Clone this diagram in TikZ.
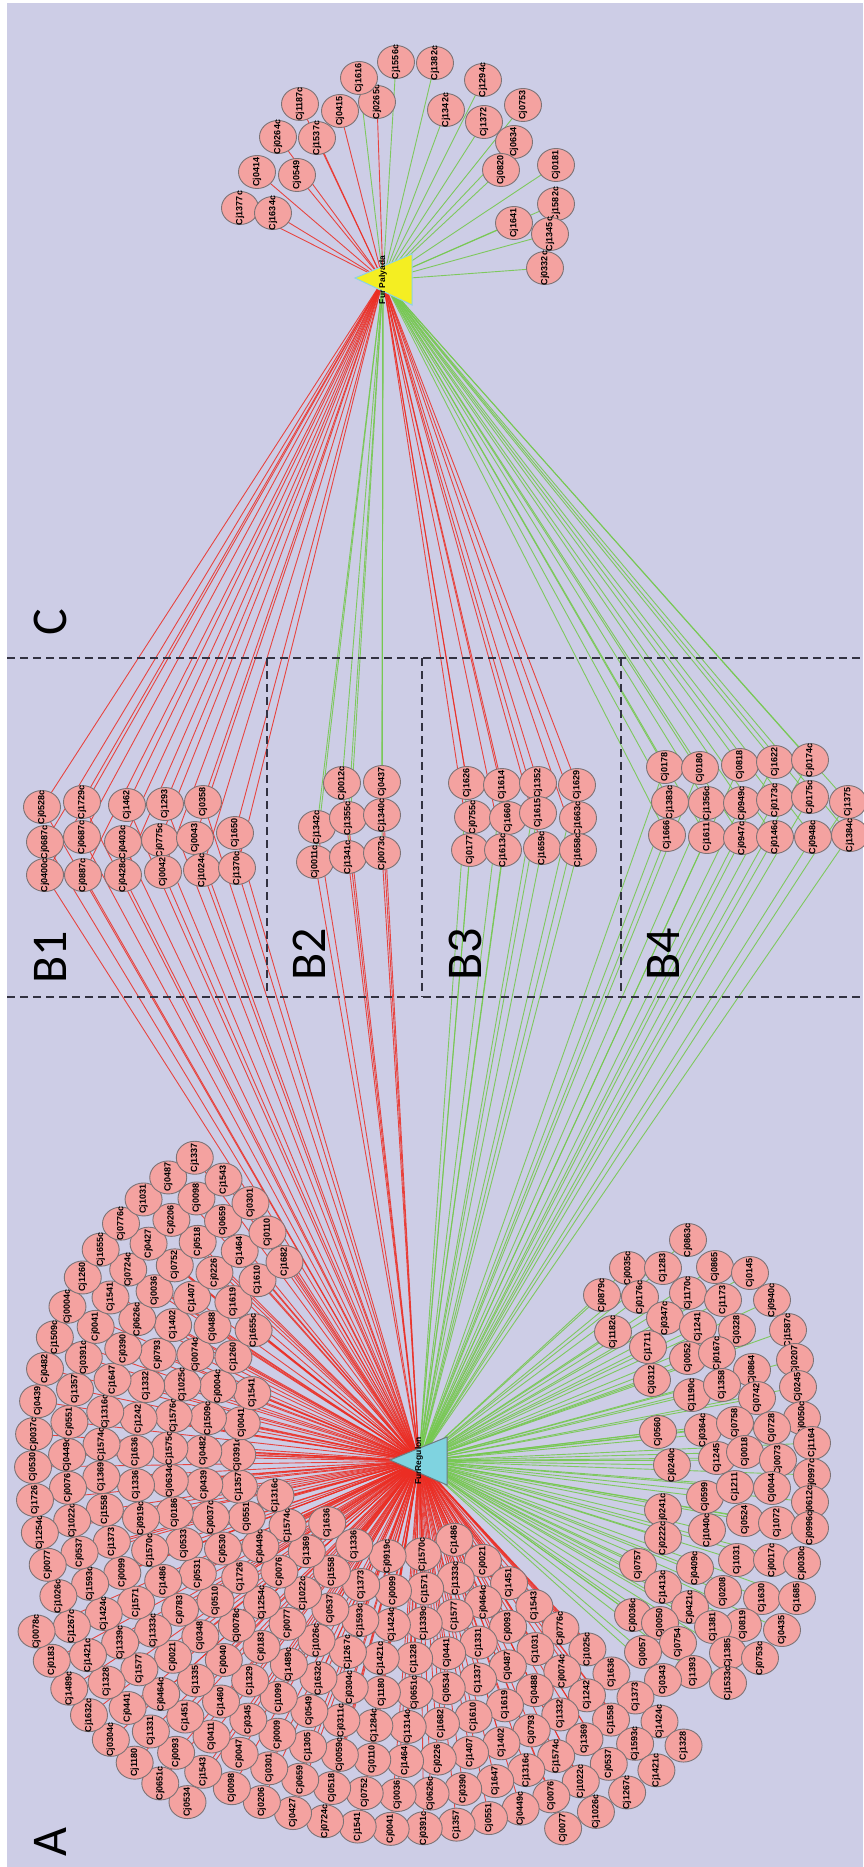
\documentclass[tikz,border=0pt]{standalone}
\usepackage{fontspec}
\setmainfont{Liberation Sans}
\newfontfamily\bigfont{Carlito}
\usetikzlibrary{shapes.geometric}
\pgfdeclarelayer{bgl}
\pgfdeclarelayer{edges}
\pgfsetlayers{bgl,edges,main}
\definecolor{bgcol}{RGB}{205,205,230}
\definecolor{genefill}{RGB}{244,162,160}
\definecolor{genedraw}{RGB}{125,115,118}
\definecolor{edgered}{RGB}{236,45,35}
\definecolor{edgegreen}{RGB}{118,200,80}
\definecolor{sepcol}{RGB}{50,50,65}
\definecolor{yelfill}{RGB}{244,238,34}
\definecolor{yeldraw}{RGB}{140,210,230}
\definecolor{cyanfill}{RGB}{127,211,224}
\definecolor{cyandraw}{RGB}{110,123,128}
\tikzset{
  gene/.style={ellipse, draw=genedraw, fill=genefill, line width=0.9pt,
    minimum width=33pt, minimum height=37pt, inner sep=0pt, rotate=90,
    font=\bfseries\fontsize{9}{9}\selectfont},
  redge/.style={draw=edgered, line width=0.9pt, opacity=0.85},
  gedge/.style={draw=edgegreen, line width=0.9pt, opacity=0.9},
  sepline/.style={draw=sepcol, line width=1.6pt, dash pattern=on 8pt off 5pt},
  biglab/.style={rotate=90, font=\bigfont\fontsize{50}{50}\selectfont, inner sep=0pt},
  hublab/.style={rotate=90, font=\bfseries\fontsize{8.5}{8.5}\selectfont, inner sep=0pt},
}
\def\lablist{{"Cj0186","Cj0537","Cj0040","Cj0441","Cj0059c","Cj0776c","Cj0390","Cj0634c","Cj1022c","Cj0348",
"Cj1328","Cj1305","Cj1031","Cj0626c","Cj1575c","Cj0076","Cj0783","Cj1421c","Cj0009","Cj0487",
"Cj0036","Cj1576c","Cj0449c","Cj1486","Cj1267c","Cj0345","Cj1337","Cj0752","Cj1025c","Cj0551",
"Cj1570c","Cj1026c","Cj1460","Cj0534","Cj0518","Cj0074c","Cj1357","Cj0919c","Cj0077","Cj1335",
"Cj0651c","Cj0659","Cj0488","Cj0391c","Cj1336","Cj1254c","Cj0021","Cj1180","Cj0301","Cj1619",
"Cj0041","Cj1636","Cj1726","Cj1333c","Cj0304c","Cj0047","Cj1610","Cj1541","Cj1242","Cj0530",
"Cj1571","Cj1632c","Cj0411","Cj1682","Cj0724c","Cj1332","Cj0037c","Cj0099","Cj1489c","Cj1451",
"Cj1314c","Cj0427","Cj0793","Cj0439","Cj1373","Cj0183","Cj0464c","Cj1284c","Cj0206","Cj1402",
"Cj0482","Cj1558","Cj0078c","Cj1577","Cj0311c","Cj0098","Cj1407","Cj1509c","Cj1369","Cj0510",
"Cj1339c","Cj0549","Cj1543","Cj0226","Cj0004c","Cj1574c","Cj0531","Cj1424c","Cj1099","Cj0093",
"Cj1464","Cj1260","Cj1316c","Cj0533","Cj1593c","Cj1329","Cj1331","Cj0110","Cj1655c","Cj1647"}}
\def\Clist{240/208/Cj1377c/redge, 273/213/Cj1634c/redge, 257/172/Cj0414/redge, 297/175/Cj0549/redge,
 278/137/Cj0264c/redge, 317/138/Cj1537c/redge, 300/104/Cj1187c/redge, 340/111/Cj0415/redge,
 377/102/Cj0265c/redge, 359/78/Cj1616/gedge, 396/62/Cj1556c/gedge, 435/63/Cj1382c/gedge,
 446/110/Cj1342c/gedge, 483/80/Cj1294c/gedge, 484/122/Cj1372/gedge, 523/105/Cj0753/gedge,
 514/142/Cj0634/gedge, 501/170/Cj0820/gedge, 556/165/Cj0181/gedge, 556/204/Cj1582c/gedge,
 514/223/Cj1641/gedge, 550/234/Cj1345c/gedge, 545/268/Cj0332c/gedge}
\def\Bonelist{42/807/Cj0528c, 45/842/Cj0687c, 45/875/Cj0400c, 82/802/Cj1729c,
 82/837/Cj0687c, 83/875/Cj0887c, 127/805/Cj1462, 123/842/Cj0403c, 123/875/Cj0428c, 165/804/Cj1293,
 160/840/Cj0775c, 163/872/Cj0042, 203/802/Cj0358, 195/838/Cj0043, 202/870/Cj1024c, 235/833/Cj1650,
 237/868/Cj1370c}
\def\Btwolist{317/827/Cj1342c, 315/862/Cj0011c, 342/783/Cj0012c, 348/818/Cj1355c,
 348/857/Cj1341c, 382/782/Cj0437, 382/815/Cj1340c, 382/853/Cj0073c}
\def\Bthreelist{467/783/Cj1626, 473/817/Cj0755c, 470/850/Cj0177, 502/785/Cj1614,
 508/818/Cj1660, 503/850/Cj1613c, 538/783/Cj1352, 538/813/Cj1615, 542/848/Cj1659c, 577/785/Cj1629,
 578/818/Cj1663c, 578/850/Cj1658c}
\def\Bfourlist{665/767/Cj0178, 670/802/Cj1383c, 667/835/Cj1666, 700/768/Cj0180,
 707/803/Cj1356c, 707/837/Cj1611, 740/765/Cj0818, 742/803/Cj0949c, 742/838/Cj0947c, 775/762/Cj1622,
 775/800/Cj0173c, 775/837/Cj0146c, 810/760/Cj0174c, 810/797/Cj0175c, 813/837/Cj0948c, 848/802/Cj1375,
 850/835/Cj1384c}
\def\Glist{688/1240/Cj0863c, 628/1268/Cj0035c, 663/1268/Cj1283, 715/1267/Cj0865, 750/1273/Cj0145,
 602/1295/Cj0879c, 640/1297/Cj0176c, 688/1293/Cj1170c, 723/1300/Cj1173, 772/1300/Cj0940c,
 613/1332/Cj1182c, 665/1318/Cj0347c, 698/1327/Cj1241, 737/1330/Cj0328, 788/1330/Cj1587c,
 648/1347/Cj1711, 688/1358/Cj0052, 717/1353/Cj0167c, 752/1370/Cj0864, 795/1360/Cj0207,
 652/1380/Cj0312, 692/1395/Cj1190c, 722/1385/Cj1358, 757/1398/Cj0742, 798/1387/Cj0245,
 658/1432/Cj0560, 802/1418/Cj0050c, 703/1430/Cj0364c, 735/1423/Cj0758, 772/1428/Cj0728,
 812/1443/Cj1164, 672/1465/Cj0240c, 717/1458/Cj1245, 745/1452/Cj0018, 778/1460/Cj0073,
 812/1475/Cj0997c, 705/1497/Cj0599, 735/1487/Cj1211, 772/1488/Cj0044, 663/1510/Cj0241c,
 810/1502/Cj0612c, 707/1530/Cj1040c, 745/1520/Cj0524, 777/1523/Cj1072, 810/1528/Cj0996c,
 663/1538/Cj0222c, 638/1565/Cj0757, 695/1568/Cj0409c, 737/1560/Cj1031, 772/1560/Cj0017c,
 802/1563/Cj0030c, 663/1587/Cj1413c, 723/1592/Cj0208, 762/1598/Cj1630, 797/1598/Cj1685,
 633/1615/Cj0036c, 690/1607/Cj0421c, 660/1623/Cj0050, 743/1625/Cj0819, 713/1627/Cj1381,
 782/1630/Cj0435, 678/1643/Cj0754, 728/1653/Cj1385, 760/1658/Cj0753c, 643/1652/Cj0057,
 693/1672/Cj1393, 728/1683/Cj1533c, 663/1680/Cj0343}
\def\Rings{95/55/140, 129/50/165, 163/48/205, 197/47/222, 231/46/240,
 265/45/240, 299/45/240, 333/45/238, 367/45/236, 401/45/66, 401/122/155}
\begin{document}
\begin{tikzpicture}[x=1pt,y=-1pt]
\begin{pgfonlayer}{bgl}
\fill[white] (0,0) rectangle (863,1867);
\fill[bgcol] (7,3) rectangle (863,1867);
\end{pgfonlayer}
\useasboundingbox (0,0) rectangle (863,1867);

% hubs
\filldraw[fill=yelfill, draw=yeldraw, line width=1pt] (355,278) -- (412,254) -- (412,305) -- cycle;
\node[hublab] (yel) at (383,280) {Fur Palyada};
\filldraw[fill=cyanfill, draw=cyandraw, line width=1pt] (390,1460) -- (447,1437) -- (447,1485) -- cycle;
\node[hublab] (furr) at (419,1461) {FurRegulon};

% separators
\draw[sepline] (7,658) -- (863,658);
\draw[sepline] (7,997) -- (863,997);
\draw[sepline] (267,658) -- (267,997);
\draw[sepline] (422,658) -- (422,997);
\draw[sepline] (621,658) -- (621,997);

% panel letters
\node[biglab] (labC) at (50,622) {C};
\node[biglab] (labB1) at (50,957) {B1};
\node[biglab] (labB2) at (309,954) {B2};
\node[biglab] (labB3) at (465,954) {B3};
\node[biglab] (labB4) at (663,954) {B4};
\node[biglab] (labA) at (50,1842) {A};

% ---------- gene nodes ----------
\foreach \x/\y/\l/\st [count=\i] in \Clist {\node[gene] (c\i) at (\x,\y) {\makebox[0pt]{\l}};}
\foreach \x/\y/\l [count=\i] in \Bonelist {\node[gene] (bA\i) at (\x,\y) {\makebox[0pt]{\l}};}
\foreach \x/\y/\l [count=\i] in \Btwolist {\node[gene] (bB\i) at (\x,\y) {\makebox[0pt]{\l}};}
\foreach \x/\y/\l [count=\i] in \Bthreelist {\node[gene] (bC\i) at (\x,\y) {\makebox[0pt]{\l}};}
\foreach \x/\y/\l [count=\i] in \Bfourlist {\node[gene] (bD\i) at (\x,\y) {\makebox[0pt]{\l}};}
\foreach \x/\y/\l [count=\i] in \Glist {\node[gene] (g\i) at (\x,\y) {\makebox[0pt]{\l}};}
\foreach \r/\aa/\ab [count=\k] in \Rings {
  \pgfmathtruncatemacro\n{max(1,round((\ab-\aa)*3.14159/180*\r/33))}
  \pgfmathsetmacro\da{(\ab-\aa)/\n}
  \foreach \j in {0,...,\n} {
    \pgfmathsetmacro\ang{\aa+\j*\da}
    \pgfmathtruncatemacro\id{mod(\k*23+\j*7,110)}
    \pgfmathparse{\lablist[\id]}\edef\lab{\pgfmathresult}
    \node[gene] (a-\k-\j) at ({400+\r*cos(\ang)},{1462+\r*sin(\ang)}) {\makebox[0pt]{\lab}};
  }
}

% ---------- connectors ----------
\begin{pgfonlayer}{edges}
\foreach \x/\y/\l/\st [count=\i] in \Clist {\draw[\st] (yel.center) -- (c\i.center);}
\foreach \x/\y/\l [count=\i] in \Bonelist {
  \draw[redge] (yel.center) -- (bA\i.center);
  \draw[redge] (furr.center) -- (bA\i.center);}
\foreach \x/\y/\l [count=\i] in \Btwolist {
  \draw[gedge] (yel.center) -- (bB\i.center);
  \draw[redge] (furr.center) -- (bB\i.center);}
\foreach \x/\y/\l [count=\i] in \Bthreelist {
  \draw[redge] (yel.center) -- (bC\i.center);
  \draw[gedge] (furr.center) -- (bC\i.center);}
\foreach \x/\y/\l [count=\i] in \Bfourlist {
  \draw[gedge] (yel.center) -- (bD\i.center);
  \draw[gedge] (furr.center) -- (bD\i.center);}
\foreach \x/\y/\l [count=\i] in \Glist {\draw[gedge] (furr.center) -- (g\i.center);}
\foreach \r/\aa/\ab [count=\k] in \Rings {
  \pgfmathtruncatemacro\n{max(1,round((\ab-\aa)*3.14159/180*\r/33))}
  \foreach \j in {0,...,\n} {\draw[redge] (furr.center) -- (a-\k-\j.center);}
}
\end{pgfonlayer}
\end{tikzpicture}
\end{document}
